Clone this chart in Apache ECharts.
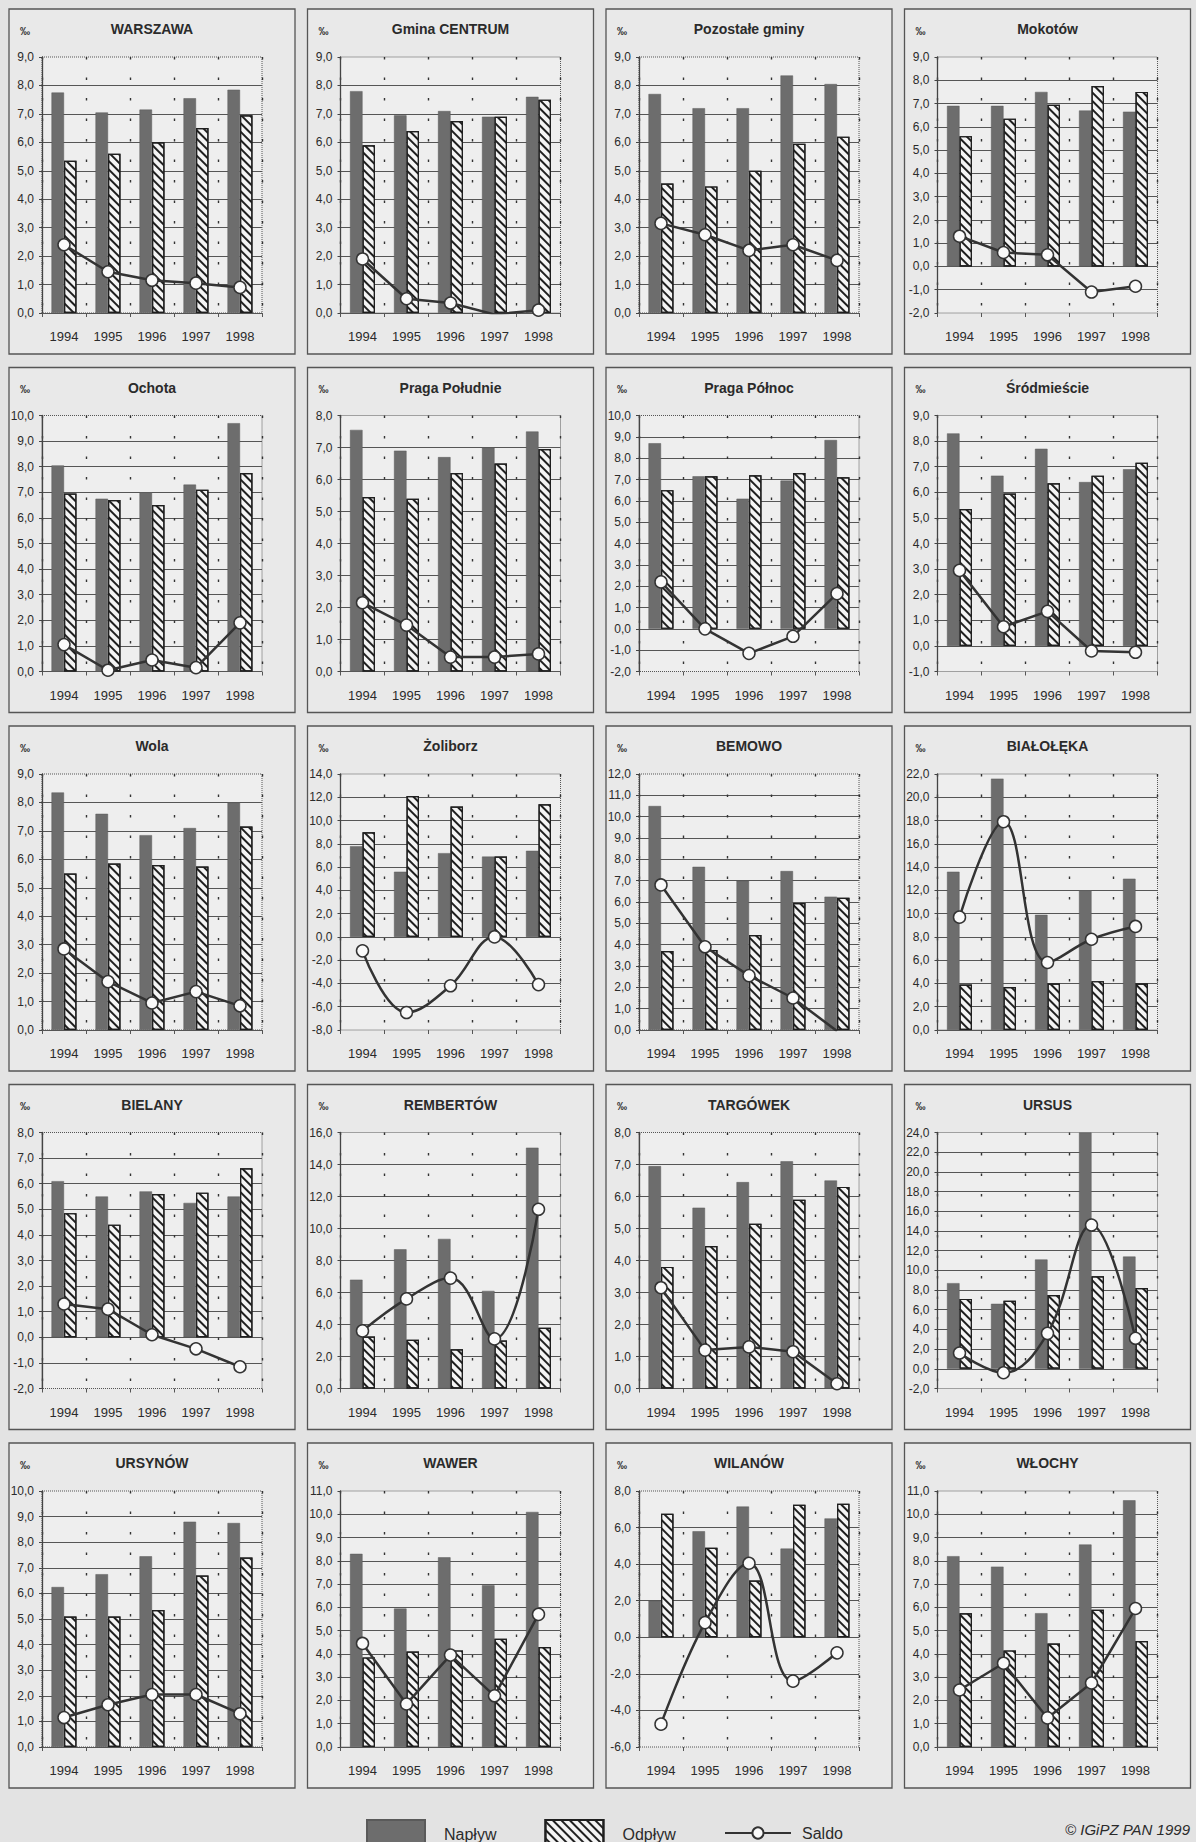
<!DOCTYPE html>
<html>
<head>
<meta charset="utf-8">
<title>Napływ, odpływ i saldo migracji – Warszawa 1994–1998</title>
<script src="https://cdn.jsdelivr.net/npm/echarts@6/dist/echarts.min.js"></script>
<style>
  html, body { margin: 0; padding: 0; background: #e3e3e3; }
  #chart { width: 1196px; height: 1842px; }
</style>
</head>
<body>
<div id="chart"></div>
<script>
const years = ["1994", "1995", "1996", "1997", "1998"];
const districts = [
  "WARSZAWA", "Gmina CENTRUM", "Pozostałe gminy", "Mokotów",
  "Ochota", "Praga Południe", "Praga Północ", "Śródmieście",
  "Wola", "Żoliborz", "BEMOWO", "BIAŁOŁĘKA",
  "BIELANY", "REMBERTÓW", "TARGÓWEK", "URSUS",
  "URSYNÓW", "WAWER", "WILANÓW", "WŁOCHY"
];
const naplyw = [
  [7.75, 7.05, 7.15, 7.55, 7.85],
  [7.8, 6.95, 7.1, 6.9, 7.6],
  [7.7, 7.2, 7.2, 8.35, 8.05],
  [6.9, 6.9, 7.5, 6.7, 6.65],
  [8.05, 6.75, 7.0, 7.3, 9.7],
  [7.55, 6.9, 6.7, 7.0, 7.5],
  [8.7, 7.15, 6.1, 6.95, 8.85],
  [8.3, 6.65, 7.7, 6.4, 6.9],
  [8.35, 7.6, 6.85, 7.1, 8.0],
  [7.8, 5.6, 7.2, 6.9, 7.4],
  [10.5, 7.65, 7.0, 7.45, 6.25],
  [13.6, 21.6, 9.9, 12.0, 13.0],
  [6.1, 5.5, 5.7, 5.25, 5.5],
  [6.8, 8.7, 9.35, 6.1, 15.05],
  [6.95, 5.65, 6.45, 7.1, 6.5],
  [8.7, 6.6, 11.1, 24.0, 11.4],
  [6.25, 6.75, 7.45, 8.8, 8.75],
  [8.3, 5.95, 8.15, 6.95, 10.1],
  [2.0, 5.8, 7.15, 4.85, 6.5],
  [8.2, 7.75, 5.75, 8.7, 10.6]
];
const odplyw = [
  [5.35, 5.6, 6.0, 6.5, 6.95],
  [5.9, 6.4, 6.75, 6.9, 7.5],
  [4.55, 4.45, 5.0, 5.95, 6.2],
  [5.6, 6.35, 6.95, 7.75, 7.5],
  [6.95, 6.7, 6.5, 7.1, 7.75],
  [5.45, 5.4, 6.2, 6.5, 6.95],
  [6.5, 7.15, 7.2, 7.3, 7.1],
  [5.35, 5.95, 6.35, 6.65, 7.15],
  [5.5, 5.85, 5.8, 5.75, 7.15],
  [9.0, 12.1, 11.2, 6.9, 11.4],
  [3.7, 3.75, 4.45, 5.95, 6.2],
  [3.9, 3.7, 4.0, 4.2, 4.0],
  [4.85, 4.4, 5.6, 5.65, 6.6],
  [3.25, 3.05, 2.45, 3.0, 3.8],
  [3.8, 4.45, 5.15, 5.9, 6.3],
  [7.1, 6.9, 7.5, 9.4, 8.2],
  [5.1, 5.1, 5.35, 6.7, 7.4],
  [3.85, 4.1, 4.15, 4.65, 4.3],
  [6.75, 4.9, 3.1, 7.25, 7.3],
  [5.75, 4.15, 4.45, 5.9, 4.55]
];
const saldo = [
  [2.4, 1.45, 1.15, 1.05, 0.9],
  [1.9, 0.5, 0.35, -0.05, 0.1],
  [3.15, 2.75, 2.2, 2.4, 1.85],
  [1.3, 0.6, 0.5, -1.1, -0.85],
  [1.05, 0.05, 0.45, 0.15, 1.9],
  [2.15, 1.45, 0.45, 0.45, 0.55],
  [2.2, 0.0, -1.15, -0.35, 1.65],
  [2.95, 0.75, 1.35, -0.2, -0.25],
  [2.85, 1.7, 0.95, 1.35, 0.85],
  [-1.2, -6.5, -4.2, 0.0, -4.1],
  [6.8, 3.9, 2.55, 1.5, -0.05],
  [9.7, 17.9, 5.8, 7.8, 8.9],
  [1.3, 1.1, 0.1, -0.45, -1.15],
  [3.6, 5.6, 6.9, 3.1, 11.2],
  [3.15, 1.2, 1.3, 1.15, 0.15],
  [1.6, -0.4, 3.6, 14.6, 3.1],
  [1.15, 1.65, 2.05, 2.05, 1.3],
  [4.45, 1.85, 3.95, 2.2, 5.7],
  [-4.75, 0.8, 4.05, -2.4, -0.85],
  [2.45, 3.6, 1.25, 2.75, 5.95]
];
// zakres osi Y dla każdej ryciny
const yMin = [0, 0, 0, -2, 0, 0, -2, -1, 0, -8, 0, 0, -2, 0, 0, -2, 0, 0, -6, 0];
const yMax = [9, 9, 9, 9, 10, 8, 10, 9, 9, 14, 12, 22, 8, 16, 8, 24, 10, 11, 8, 11];
const yStep = [1, 1, 1, 1, 1, 1, 1, 1, 1, 2, 1, 2, 1, 2, 1, 2, 1, 1, 2, 1];

// ryciny z wygładzoną linią salda
const smoothed = ["Żoliborz", "BIAŁOŁĘKA", "REMBERTÓW", "URSUS", "WILANÓW"];

const FONT = "'Liberation Sans', Arial, sans-serif";
const INK = "#2b2b2b";

// układ: 4 kolumny x 5 wierszy
const PANEL_W = 286, PANEL_H = 345;
const COL_X0 = 9, COL_STEP = 298.5;
const ROW_Y0 = 9, ROW_STEP = 358.5;

const fmt = (v) => v.toFixed(1).replace(".", ",");

const hatch = {
  symbol: "rect",
  color: "#1f1f1f",
  dashArrayX: [1, 0],
  dashArrayY: [2, 3.2],
  rotation: Math.PI / 4
};

const grids = [], xAxes = [], yAxes = [], series = [], graphics = [];

districts.forEach((name, i) => {
  const col = i % 4;
  const row = Math.floor(i / 4);
  const px = COL_X0 + col * COL_STEP;
  const py = ROW_Y0 + row * ROW_STEP;

  // ramka ryciny
  graphics.push({
    type: "rect",
    z: -10,
    shape: { x: px, y: py, width: PANEL_W, height: PANEL_H },
    style: { fill: "#e9e9e9", stroke: "#555", lineWidth: 1.3 }
  });
  graphics.push({
    type: "text",
    x: px + PANEL_W / 2,
    y: py + 20,
    style: {
      text: name, fill: INK, textAlign: "center", textVerticalAlign: "middle",
      font: "bold 14px " + FONT
    }
  });
  graphics.push({
    type: "text",
    x: px + 16,
    y: py + 22,
    style: {
      text: "‰", fill: INK, textAlign: "center", textVerticalAlign: "middle",
      font: "bold 10px " + FONT
    }
  });

  grids.push({
    left: px + 33,
    top: py + 48,
    width: 220,
    height: 256,
    show: true,
    backgroundColor: "#eeeeee",
    borderColor: "#555",
    borderWidth: 1,
    borderType: "dotted"
  });

  xAxes.push({
    type: "category",
    gridIndex: i,
    data: years,
    axisLine: { show: false, onZero: false },
    axisTick: { show: true, length: 4, lineStyle: { color: "#555" } },
    axisLabel: { fontSize: 13, color: INK, margin: 17, fontFamily: FONT },
    splitLine: { show: true, lineStyle: { color: "#333", width: 1.4, type: [2.5, 18] } }
  });

  yAxes.push({
    type: "value",
    gridIndex: i,
    min: yMin[i],
    max: yMax[i],
    interval: yStep[i],
    axisLine: { show: true, lineStyle: { color: "#444", width: 1.3 } },
    axisTick: { show: true, length: 3, lineStyle: { color: "#444" } },
    axisLabel: { formatter: fmt, fontSize: 12, color: INK, margin: 8, fontFamily: FONT },
    splitLine: {
      show: true,
      showMaxLine: false,
      showMinLine: yMin[i] === 0,
      lineStyle: { color: "#555", width: 1.2 }
    }
  });

  series.push({
    name: "Napływ",
    type: "bar",
    xAxisIndex: i,
    yAxisIndex: i,
    data: naplyw[i],
    barWidth: 12.5,
    barGap: "0%",
    itemStyle: { color: "#6d6d6d", borderColor: "#5a5a5a", borderWidth: 0.5 }
  });
  series.push({
    name: "Odpływ",
    type: "bar",
    xAxisIndex: i,
    yAxisIndex: i,
    data: odplyw[i],
    barWidth: 12.5,
    barGap: "0%",
    itemStyle: { color: "#f4f4f4", borderColor: "#1f1f1f", borderWidth: 1.2, decal: hatch }
  });
  series.push({
    name: "Saldo",
    type: "line",
    xAxisIndex: i,
    yAxisIndex: i,
    data: saldo[i],
    smooth: smoothed.includes(name) ? 0.4 : false,
    symbol: "circle",
    symbolSize: 12,
    z: 5,
    lineStyle: { color: "#333", width: 2.5 },
    itemStyle: { color: "#fafafa", borderColor: "#333", borderWidth: 1.5 }
  });
});

// podpis źródła
graphics.push({
  type: "text",
  x: 1190,
  y: 1829,
  style: {
    text: "© IGiPZ PAN 1999", fill: INK, textAlign: "right", textVerticalAlign: "middle",
    font: "italic 15px " + FONT
  }
});

const chart = echarts.init(document.getElementById("chart"), null, { renderer: "svg" });
chart.setOption({
  backgroundColor: "#e3e3e3",
  animation: false,
  textStyle: { fontFamily: FONT },
  grid: grids,
  xAxis: xAxes,
  yAxis: yAxes,
  series: series,
  graphic: graphics,
  legend: [
    {
      data: [{ name: "Napływ", icon: "rect" }, { name: "Odpływ", icon: "rect" }],
      left: 361,
      top: 1814,
      itemWidth: 58,
      itemHeight: 28,
      itemGap: 48,
      selectedMode: false,
      textStyle: { fontSize: 16, color: INK, padding: [0, 0, 4, 14] }
    },
    {
      data: ["Saldo"],
      left: 719,
      top: 1820,
      itemWidth: 66,
      itemHeight: 14,
      selectedMode: false,
      textStyle: { fontSize: 16, color: INK, padding: [0, 0, 0, 6] }
    }
  ]
});
</script>
</body>
</html>
